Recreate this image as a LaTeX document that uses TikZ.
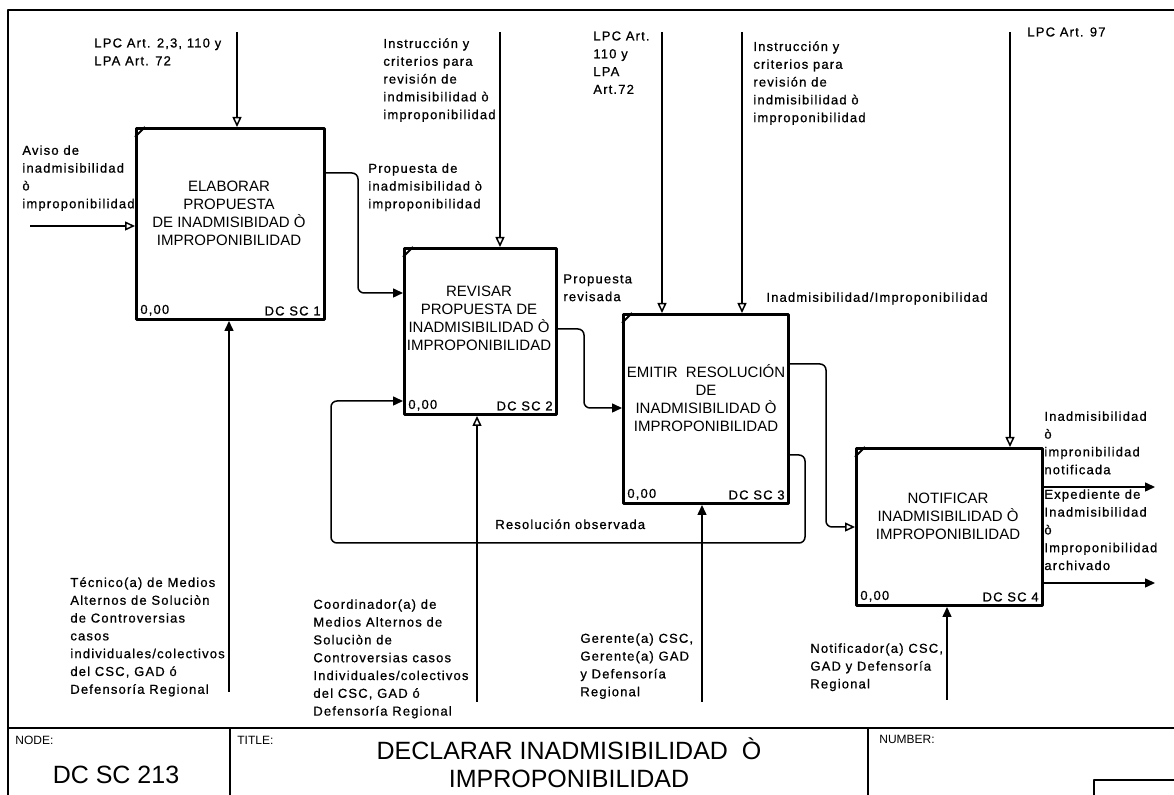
\documentclass[tikz,border=0pt]{standalone}
\usepackage{fontspec}
\setmainfont{Liberation Sans}
\newfontfamily\lblfont[LetterSpace=9, FakeBold=0.8]{Liberation Sans}
\usetikzlibrary{positioning,arrows.meta}

\begin{document}
\begin{tikzpicture}[x=0.5pt, y=-0.5pt, line join=round,
    actbox/.style={draw, line width=1.5pt, anchor=north west, inner sep=0pt},
    acttext/.style={font=\fontsize{7.5}{9}\selectfont, align=center, inner sep=0pt},
    actnum/.style={font=\lblfont\fontsize{6.5}{8}\selectfont, inner sep=2.5pt},
    note/.style={font=\lblfont\fontsize{6.5}{8.9}\selectfont, align=left, anchor=north west, inner sep=0pt},
    flow/.style={line width=0.75pt, rounded corners=3pt},
    tipo/.style={-{Triangle[open, length=5pt, width=4.5pt]}},
    tipf/.style={-{Triangle[length=5pt, width=4.5pt]}},
    frame/.style={line width=1pt},
    heading/.style={font=\fontsize{6}{7}\selectfont, anchor=north west, inner sep=0pt}]
  \useasboundingbox (0,0) rectangle (1174,795);

  \draw[frame] (8,795) -- (8,10) -- (1174,10);
  \draw[frame] (8,728) -- (1174,728);
  \draw[frame] (230,728) -- (230,795);
  \draw[frame] (868,728) -- (868,795);
  \draw[frame] (1094,795) -- (1094,780) -- (1174,780);

  \node[actbox, minimum width=94pt, minimum height=95.5pt] (elab) at (135,127) {};
  \node[actbox, minimum width=76pt, minimum height=83pt] (revi) at (403,247) {};
  \node[actbox, minimum width=82.5pt, minimum height=94.5pt] (emit) at (622,313) {};
  \node[actbox, minimum width=93pt, minimum height=78.5pt] (noti) at (855,447) {};

  \node[acttext] (elab-t) at (229,213) {ELABORAR\\PROPUESTA\\DE INADMISIBIDAD Ò\\IMPROPONIBILIDAD};
  \node[acttext] (revi-t) at (479,318) {REVISAR\\PROPUESTA DE\\INADMISIBILIDAD Ò\\IMPROPONIBILIDAD};
  \node[acttext] (emit-t) at (706,398) {EMITIR\ \ RESOLUCIÓN\\DE\\INADMISIBILIDAD Ò\\IMPROPONIBILIDAD};
  \node[acttext] (noti-t) at (948,516) {NOTIFICAR\\INADMISIBILIDAD Ò\\IMPROPONIBILIDAD};

  \foreach \b/\n in {elab/1,revi/2,emit/3,noti/4}{
    \draw[line width=1pt] ([yshift=-5pt]\b.north west) -- ([xshift=5pt]\b.north west);
    \node[actnum, anchor=south west] (\b-z) at (\b.south west) {0,00};
    \node[actnum, anchor=south east] (\b-c) at (\b.south east) {DC SC \n};
  }

  \coordinate (c1) at (237,32);
  \coordinate (c2) at (500,32);
  \coordinate (c3a) at (662,32);
  \coordinate (c3b) at (742,32);
  \coordinate (c4) at (1010,32);
  \coordinate (in1) at (30,226);
  \coordinate (m1) at (229,692);
  \coordinate (m2) at (477,702);
  \coordinate (m3) at (702,702);
  \coordinate (m4) at (947,700);
  \coordinate (o4a) at (1155,487);
  \coordinate (o4b) at (1155,583);

  \draw[flow, tipo] (c1) -- (c1 |- elab.north);
  \draw[flow, tipo] (c2) -- (c2 |- revi.north);
  \draw[flow, tipo] (c3a) -- (c3a |- emit.north);
  \draw[flow, tipo] (c3b) -- (c3b |- emit.north);
  \draw[flow, tipo] (c4) -- (c4 |- noti.north);
  \draw[flow, tipo] (in1) -- (in1 -| elab.west);
  \draw[flow, tipf] (m1) -- (m1 |- elab.south);
  \draw[flow, tipo] (m2) -- (m2 |- revi.south);
  \draw[flow, tipf] (m3) -- (m3 |- emit.south);
  \draw[flow, tipf] (m4) -- (m4 |- noti.south);

  \draw[flow, tipf] (elab.east |- 0,173) -- (358,173) -- (358,293) -- (revi.west |- 0,293);
  \draw[flow, tipf] (revi.east |- 0,329) -- (584,329) -- (584,408) -- (emit.west |- 0,408);
  \draw[flow, tipf] (emit.east |- 0,455) -- (805,455) -- (805,543) -- (331,543) -- (331,401) -- (revi.west |- 0,401);
  \draw[flow, tipo] (emit.east |- 0,364) -- (826,364) -- (826,527) -- (noti.west |- 0,527);
  \draw[flow, tipf] (noti.east |- o4a) -- (o4a);
  \draw[flow, tipf] (noti.east |- o4b) -- (o4b);

  \node[note] (lpc1) at (94,38) {LPC Art. 2,3, 110 y\\LPA Art. 72};
  \node[note] (aviso) at (22,145) {Aviso de\\inadmisibilidad\\ò\\improponibilidad};
  \node[note] (tecn) at (70,577) {Técnico(a) de Medios\\Alternos de Soluciòn\\de Controversias\\casos\\individuales/colectivos\\del CSC, GAD ó\\Defensoría Regional};
  \node[note] (prop1) at (368,163) {Propuesta de\\inadmisibilidad ò\\improponibilidad};
  \node[note] (instr1) at (383,38) {Instrucción y\\criterios para\\revisión de\\indmisibilidad ò\\improponibilidad};
  \node[note] (lpc2) at (593,31) {LPC Art.\\110 y\\LPA\\Art.72};
  \node[note] (instr2) at (753,41) {Instrucción y\\criterios para\\revisión de\\indmisibilidad ò\\improponibilidad};
  \node[note] (lpc3) at (1027,27) {LPC Art. 97};
  \node[note] (prop2) at (563,274) {Propuesta\\revisada};
  \node[note] (inad) at (766,292) {Inadmisibilidad/Improponibilidad};
  \node[note] (obs) at (495,519) {Resolución observada};
  \node[note] (notif) at (1044,411) {Inadmisibilidad\\ò\\impronibilidad\\notificada};
  \node[note] (arch) at (1044,489) {Expediente de\\Inadmisibilidad\\ò\\Improponibilidad\\archivado};
  \node[note] (coord) at (313,599) {Coordinador(a) de\\Medios Alternos de\\Soluciòn de\\Controversias casos\\Individuales/colectivos\\del CSC, GAD ó\\Defensoría Regional};
  \node[note] (geren) at (580,633) {Gerente(a) CSC,\\Gerente(a) GAD\\y Defensoría\\Regional};
  \node[note] (notifr) at (810,643) {Notificador(a) CSC,\\GAD y Defensoría\\Regional};

  \node[heading] (node-h) at (15,736) {NODE:};
  \node[heading] (title-h) at (237,736) {TITLE:};
  \node[heading] (num-h) at (879,735) {NUMBER:};
  \node[font=\fontsize{12.5}{14}\selectfont] (node-v) at (116,775) {DC SC 213};
  \node[font=\fontsize{12.5}{14}\selectfont, align=center] (title-v) at (569,763) {DECLARAR INADMISIBILIDAD\ \ Ò\\IMPROPONIBILIDAD};
\end{tikzpicture}
\end{document}
